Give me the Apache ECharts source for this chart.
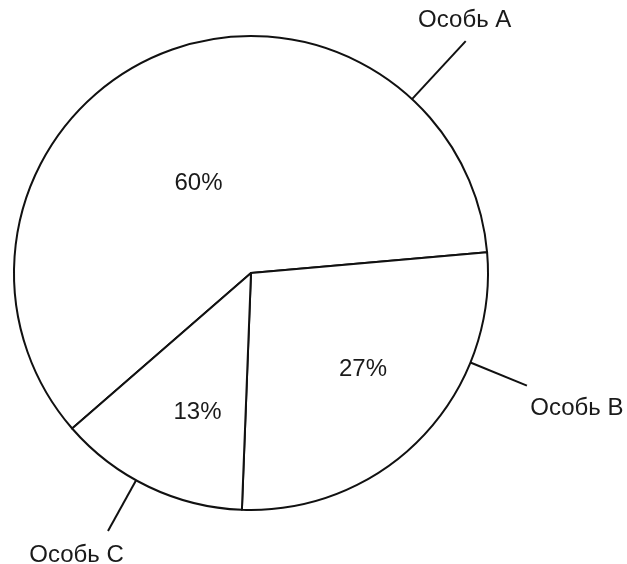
<!DOCTYPE html>
<html>
<head>
<meta charset="utf-8">
<script src="https://cdn.jsdelivr.net/npm/echarts@6/dist/echarts.min.js"></script>
<style>html,body{margin:0;padding:0;background:#fff}#c{width:627px;height:564px}</style>
</head>
<body>
<div id="c"></div>
<script>
// ---- data ----
const categories = ['Особь A', 'Особь B', 'Особь C'];
const shares = [60, 27, 13];

// ---- layout (not data) ----
const CX = 251, CY = 273, R = 237;
const START_ANGLE = 221;
const FONT = 'Liberation Sans, Arial, sans-serif';
const FONT_SIZE = 24;
const PCT_SHIFT = [[-5, 22], [24, 13], [-1, 30]];
const NAME_LAYOUT = [
  { angle: 47.2, len: 79, dx: -1, dy: -21 },
  { angle: -22.2, len: 61, dx: 50, dy: 23 },
  { angle: -119.0, len: 58, dx: -31.5, dy: 24 }
];

const pieData = categories.map((n, i) => ({ name: n, value: shares[i] }));

const chart = echarts.init(document.getElementById('c'), null, { renderer: 'canvas' });
chart.setOption({
  animation: false,
  backgroundColor: '#fff',
  series: [
    {
      type: 'pie',
      center: [CX, CY],
      radius: R,
      startAngle: START_ANGLE,
      clockwise: true,
      percentPrecision: 0,
      silent: true,
      emphasis: { disabled: true },
      itemStyle: { color: '#fff', borderColor: '#111', borderWidth: 2 },
      label: {
        show: true,
        position: 'inside',
        formatter: '{d}%',
        color: '#1a1a1a',
        fontFamily: FONT,
        fontSize: FONT_SIZE
      },
      labelLine: { show: false },
      labelLayout: function (p) {
        const s = PCT_SHIFT[p.dataIndex];
        return { dx: s[0], dy: s[1] };
      },
      data: pieData
    },
    {
      type: 'pie',
      center: [CX, CY],
      radius: R,
      startAngle: START_ANGLE,
      clockwise: true,
      silent: true,
      emphasis: { disabled: true },
      itemStyle: { color: 'rgba(0,0,0,0)', borderWidth: 0 },
      label: {
        show: true,
        position: 'outside',
        formatter: '{b}',
        color: '#1a1a1a',
        fontFamily: FONT,
        fontSize: FONT_SIZE
      },
      labelLine: { show: true, lineStyle: { color: '#111', width: 2 } },
      labelLayout: function (p) {
        const L = NAME_LAYOUT[p.dataIndex];
        const a = L.angle * Math.PI / 180;
        const x1 = CX + R * Math.cos(a), y1 = CY - R * Math.sin(a);
        const x2 = CX + (R + L.len) * Math.cos(a), y2 = CY - (R + L.len) * Math.sin(a);
        return {
          x: x2 + L.dx, y: y2 + L.dy,
          align: 'center', verticalAlign: 'middle',
          labelLinePoints: [[x1, y1], [x2, y2]]
        };
      },
      data: pieData
    }
  ]
});
</script>
</body>
</html>
